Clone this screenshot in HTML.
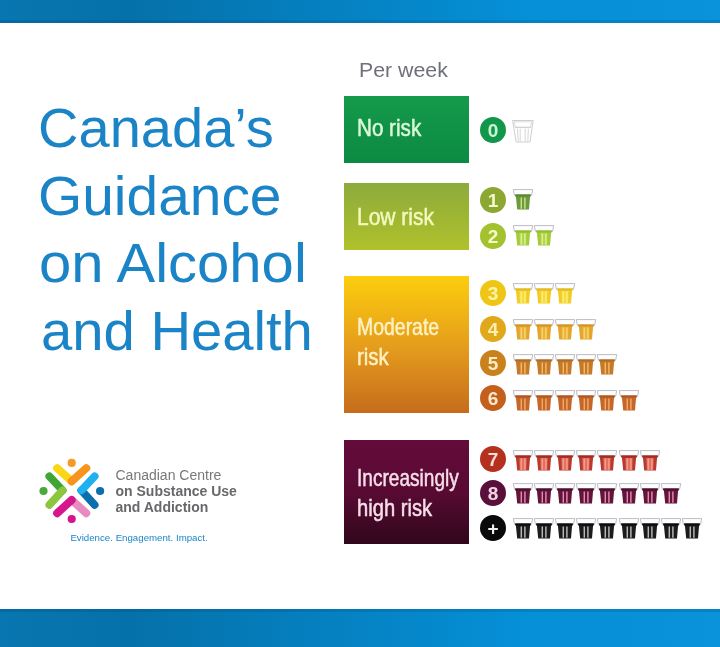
<!DOCTYPE html>
<html lang="en">
<head>
<meta charset="utf-8">
<title>Canada's Guidance on Alcohol and Health</title>
<style>
html,body{margin:0;padding:0;}
body{width:720px;height:647px;position:relative;overflow:hidden;background:#fff;font-family:"Liberation Sans",sans-serif;}
.bar{position:absolute;left:0;width:720px;background:linear-gradient(90deg,#0876b0 0%,#0571aa 18%,#0583c4 50%,#058fd6 72%,#0a92da 100%);}
#topbar{top:0;height:22.5px;}
#botbar{top:609px;height:38px;}
.bar:after{content:"";position:absolute;left:0;right:0;height:3px;background:rgba(0,60,110,.18);}
#topbar:after{bottom:0;}
#botbar:after{top:0;}
h1{position:absolute;left:38px;top:0;margin:0;font-weight:400;font-size:55px;line-height:67.5px;color:#1a84c6;white-space:nowrap;}
h1 span{position:absolute;left:0;display:block;transform-origin:0 0;}
#perweek{position:absolute;left:358.5px;top:58px;transform-origin:0 0;transform:scaleX(1.065);font-size:20px;line-height:24px;color:#6e6f7c;white-space:nowrap;}
.box{position:absolute;left:343.8px;width:124.8px;}
.box span{position:absolute;left:14px;white-space:nowrap;font-size:24px;line-height:30px;transform-origin:0 0;transform:scaleX(.8);-webkit-text-stroke:.5px currentColor;}
#b0{top:95.8px;height:67.5px;background:linear-gradient(180deg,#159a4a,#0b8a43);color:#dcf8d8;}
#b1{top:183.3px;height:67.2px;background:linear-gradient(180deg,#8dab3d,#b0c12b);color:#f3f9bd;}
#b2{top:276.1px;height:136.6px;background:linear-gradient(180deg,#fcce0e,#e59c1c 52%,#c56c1c);color:#fdf1c4;}
#b3{top:440.2px;height:104px;background:linear-gradient(180deg,#640b3a,#580a33 50%,#30071b);color:#f6dfe9;}
.n{position:absolute;left:480px;width:26px;height:26px;border-radius:50%;text-align:center;font-weight:700;font-size:19px;line-height:27px;}
.row{position:absolute;left:512.5px;height:21px;}
.row svg{position:absolute;top:0;width:20px;height:21px;overflow:visible;}
#logo{position:absolute;}
.lt{position:absolute;left:115.5px;white-space:nowrap;font-size:14px;line-height:16px;color:#77787b;}
.lt b{color:#67686b;}
#tag{position:absolute;left:70.4px;top:531.8px;font-size:9.7px;line-height:12px;color:#1a86c8;white-space:nowrap;}
</style>
</head>
<body>
<div class="bar" id="topbar"></div>
<div class="bar" id="botbar"></div>

<h1><span id="h1a" style="top:95px;left:.4px;transform:scaleX(1.019)">Canada’s</span><span id="h1b" style="top:162.5px;left:.4px;transform:scaleX(1.034)">Guidance</span><span id="h1c" style="top:230px;left:1px;transform:scaleX(1.055)">on Alcohol</span><span id="h1d" style="top:297.5px;left:2.5px;transform:scaleX(1.022)">and Health</span></h1>

<div id="perweek">Per week</div>

<div class="box" id="b0"><span id="t0" style="top:17px;left:13px;transform:scaleX(.86)">No risk</span></div>
<div class="box" id="b1"><span id="t1" style="top:19px;left:13px;transform:scaleX(.875)">Low risk</span></div>
<div class="box" id="b2"><span id="t2a" style="top:36px;left:13px;transform:scaleX(.81)">Moderate</span><span id="t2b" style="top:66px;left:13px;transform:scaleX(.85)">risk</span></div>
<div class="box" id="b3"><span id="t3a" style="top:23px;left:13px;transform:scaleX(.795)">Increasingly</span><span id="t3b" style="top:52.7px;left:13px;transform:scaleX(.84)">high risk</span></div>

<svg width="0" height="0" style="position:absolute">
<defs>
<symbol id="g" viewBox="0 0 20 21" overflow="visible">
  <path d="M0.3 0.6H19.7L18.6 6.3H1.4Z" fill="#fff" stroke="var(--r,#b4b4c2)" stroke-width=".9"/>
  <path d="M2.2 5.5H17.8L17.5 7.6H17.1L16 20.6H4.2L2.9 7.6H2.5Z" fill="var(--c)"/>
  <path d="M6.4 8H13.6L13.2 20H6.8Z" fill="var(--m,transparent)"/>
  <path d="M2.2 5.5H17.8L17.5 7.6H2.5Z" fill="var(--d)"/>
  <path d="M8.3 8.4V19.8M11.9 8.4V19.8" stroke="var(--l)" stroke-width="1.45" fill="none"/>
</symbol>
<symbol id="e" viewBox="0 0 20 22" overflow="visible">
  <path d="M-0.4 0.5H20.2L17 22H3.2Z" fill="#fff" stroke="#c4c4c4" stroke-width=".85"/>
  <path d="M1.2 1.8H18.6L17.6 7.3H2.4Z" fill="none" stroke="#cfcfcf" stroke-width=".7"/>
  <path d="M2 7.3H18M7.2 8.6V21.4M12.2 8.6V21.4M4.4 8.6L5.2 21M15.4 8.6L14.8 21" fill="none" stroke="#cacaca" stroke-width=".8"/>
</symbol>
</defs>
</svg>

<!--LOGO-->
<svg id="logo" viewBox="30 450 100 80" style="left:30px;top:450px;width:100px;height:80px" stroke-linecap="round" stroke-width="7.9" fill="none">
  <path d="M57.1 468.1L71.7 481.3" stroke="#f9d616"/>
  <path d="M86.3 468.1L71.7 481.3" stroke="#f7941e"/>
  <circle cx="71.7" cy="462.9" r="4.1" fill="#f59a23"/>
  <path d="M49.4 476.4L62.6 490.4" stroke="#3fa535"/>
  <path d="M49.4 504.9L62.6 490.4" stroke="#8cc63f"/>
  <circle cx="43.5" cy="491" r="4.1" fill="#4aa83c"/>
  <path d="M94.6 504.9L81.4 490.4" stroke="#0b6fae"/>
  <path d="M94.6 476.4L81.4 490.4" stroke="#1fb1ee"/>
  <circle cx="100.1" cy="491" r="4.1" fill="#0b6fae"/>
  <path d="M86.3 513.2L71.7 500" stroke="#e78cc1"/>
  <path d="M57.1 513.2L71.7 500" stroke="#d5168c"/>
  <circle cx="71.7" cy="519" r="4.1" fill="#d4148c"/>
</svg>
<div class="lt" id="l1" style="top:466.8px">Canadian Centre</div>
<div class="lt" id="l2" style="top:482.8px"><b>on Substance Use</b></div>
<div class="lt" id="l3" style="top:498.9px"><b>and Addiction</b></div>
<div id="tag">Evidence. Engagement. Impact.</div>
<!--/LOGO-->
<!--ROWS-->
<div class="n" id="n0" style="top:117.2px;background:#12964a;color:#c9f7d6">0</div>
<div class="row" style="top:120.2px"><svg style="left:0;height:22px"><use href="#e"/></svg></div>
<div class="n" id="n1" style="top:187.3px;background:#8da733;color:#f4f8c8">1</div>
<div class="row" style="top:189.0px;--c:#6d9a3a;--l:#c9e08e;--d:#5b8a33"><svg style="left:0.00px"><use href="#g"/></svg></div>
<div class="n" id="n2" style="top:222.7px;background:#a4c22f;color:#f6fbc4">2</div>
<div class="row" style="top:225.4px;--c:#a3cb3a;--l:#dff08a;--d:#93bd34;--m:rgba(223,240,138,.3)"><svg style="left:0.00px"><use href="#g"/></svg><svg style="left:21.23px"><use href="#g"/></svg></div>
<div class="n" id="n3" style="top:280.0px;background:#f0c616;color:#fdf3a8">3</div>
<div class="row" style="top:282.6px;--c:#f1cd22;--l:#fdee74;--d:#e6b92a;--m:rgba(253,238,116,.4)"><svg style="left:0.00px"><use href="#g"/></svg><svg style="left:21.23px"><use href="#g"/></svg><svg style="left:42.46px"><use href="#g"/></svg></div>
<div class="n" id="n4" style="top:315.5px;background:#e2a81b;color:#fdefb0">4</div>
<div class="row" style="top:318.6px;--c:#e3a52b;--l:#fad36c;--d:#d6962a;--m:rgba(250,211,108,.3)"><svg style="left:0.00px"><use href="#g"/></svg><svg style="left:21.23px"><use href="#g"/></svg><svg style="left:42.46px"><use href="#g"/></svg><svg style="left:63.69px"><use href="#g"/></svg></div>
<div class="n" id="n5" style="top:350.0px;background:#c9811d;color:#fdeac0">5</div>
<div class="row" style="top:353.9px;--c:#c47a28;--l:#f6b86c;--d:#b46c24"><svg style="left:0.00px"><use href="#g"/></svg><svg style="left:21.23px"><use href="#g"/></svg><svg style="left:42.46px"><use href="#g"/></svg><svg style="left:63.69px"><use href="#g"/></svg><svg style="left:84.92px"><use href="#g"/></svg></div>
<div class="n" id="n6" style="top:385.0px;background:#c3601b;color:#fde6cc">6</div>
<div class="row" style="top:389.6px;--c:#c4672a;--l:#f5a866;--d:#b0561f"><svg style="left:0.00px"><use href="#g"/></svg><svg style="left:21.23px"><use href="#g"/></svg><svg style="left:42.46px"><use href="#g"/></svg><svg style="left:63.69px"><use href="#g"/></svg><svg style="left:84.92px"><use href="#g"/></svg><svg style="left:106.15px"><use href="#g"/></svg></div>
<div class="n" id="n7" style="top:446.0px;background:#b4301f;color:#fbdcd8">7</div>
<div class="row" style="top:449.6px;--c:#b8392e;--l:#f99a8a;--d:#a32b21;--m:rgba(250,150,138,.6)"><svg style="left:0.00px"><use href="#g"/></svg><svg style="left:21.23px"><use href="#g"/></svg><svg style="left:42.46px"><use href="#g"/></svg><svg style="left:63.69px"><use href="#g"/></svg><svg style="left:84.92px"><use href="#g"/></svg><svg style="left:106.15px"><use href="#g"/></svg><svg style="left:127.38px"><use href="#g"/></svg></div>
<div class="n" id="n8" style="top:480.0px;background:#5a0e3a;color:#f3d3e3">8</div>
<div class="row" style="top:483.2px;--c:#61153c;--l:#e58aa8;--d:#4f0d30"><svg style="left:0.00px"><use href="#g"/></svg><svg style="left:21.23px"><use href="#g"/></svg><svg style="left:42.46px"><use href="#g"/></svg><svg style="left:63.69px"><use href="#g"/></svg><svg style="left:84.92px"><use href="#g"/></svg><svg style="left:106.15px"><use href="#g"/></svg><svg style="left:127.38px"><use href="#g"/></svg><svg style="left:148.61px"><use href="#g"/></svg></div>
<div class="n" id="np" style="top:515.0px;background:#0a0a0a;color:#f0f0f0">+</div>
<div class="row" style="top:518.0px;--c:#1c1c1c;--l:#b9b9b9;--d:#0c0c0c"><svg style="left:0.00px"><use href="#g"/></svg><svg style="left:21.23px"><use href="#g"/></svg><svg style="left:42.46px"><use href="#g"/></svg><svg style="left:63.69px"><use href="#g"/></svg><svg style="left:84.92px"><use href="#g"/></svg><svg style="left:106.15px"><use href="#g"/></svg><svg style="left:127.38px"><use href="#g"/></svg><svg style="left:148.61px"><use href="#g"/></svg><svg style="left:169.84px"><use href="#g"/></svg></div>
<!--/ROWS-->
</body>
</html>
